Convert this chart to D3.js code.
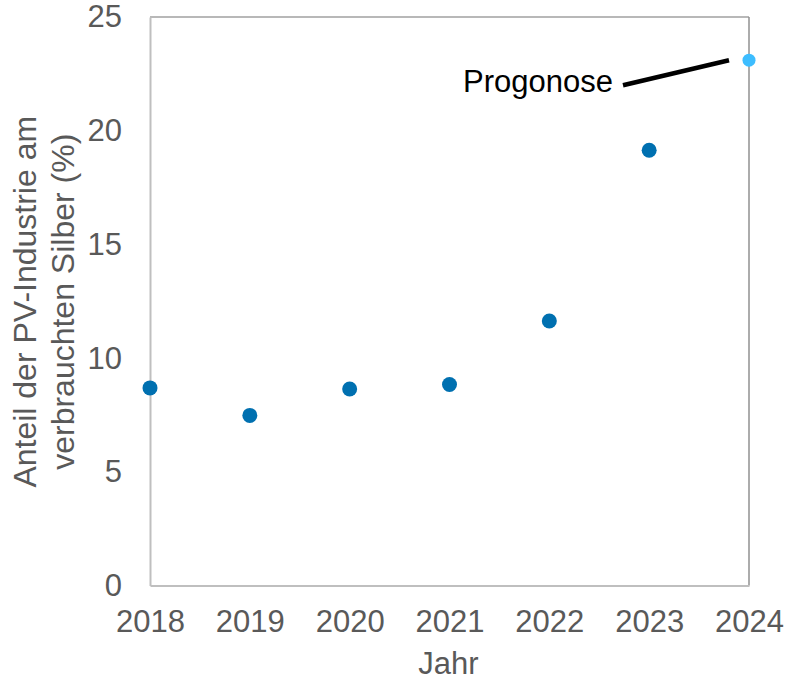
<!DOCTYPE html>
<html>
<head>
<meta charset="utf-8">
<script src="https://cdn.jsdelivr.net/npm/d3@7"></script>
<style>
  html, body { margin: 0; padding: 0; background: #fff; }
  svg { display: block; font-family: Arial, "Liberation Sans", sans-serif; }
</style>
</head>
<body>
<svg id="chart" width="789" height="681"></svg>
<script>
// Share of silver consumed by the PV industry, per year (2024 is a forecast)
const years = ["2018", "2019", "2020", "2021", "2022", "2023", "2024"];
const shares = [8.69, 7.48, 8.64, 8.84, 11.63, 19.14, 23.10];
const forecast = [false, false, false, false, false, false, true];
const yTicks = [0, 5, 10, 15, 20, 25];

const svg = d3.select("#chart");
const m = { left: 150, right: 749, top: 17, bottom: 585.5 };

const x = d3.scalePoint().domain(years).range([m.left, m.right]);
const y = d3.scaleLinear().domain([0, 25]).range([m.bottom, m.top]);

const tickColor = "#595959";

// plot frame: top and right edges
svg.append("line").attr("x1", m.left).attr("x2", m.right).attr("y1", m.top).attr("y2", m.top)
  .attr("stroke", "#a0a0a0").attr("stroke-width", 1.5);
svg.append("line").attr("x1", m.right).attr("x2", m.right).attr("y1", m.top).attr("y2", m.bottom)
  .attr("stroke", "#909090").attr("stroke-width", 1.5);

// y axis
const yAxis = svg.append("g").attr("transform", `translate(${m.left},0)`)
  .call(d3.axisLeft(y).tickValues(yTicks).tickSize(0).tickPadding(28));
yAxis.select(".domain").attr("stroke", "#bfbfbf").attr("stroke-width", 2);
yAxis.selectAll("text").attr("fill", tickColor).attr("font-size", 31)
  .attr("font-family", "Arial, 'Liberation Sans', sans-serif");

// x axis
const xAxis = svg.append("g").attr("transform", `translate(0,${m.bottom})`)
  .call(d3.axisBottom(x).tickSize(0).tickPadding(24));
xAxis.select(".domain").attr("stroke", "#bfbfbf").attr("stroke-width", 2);
xAxis.selectAll("text").attr("fill", tickColor).attr("font-size", 31)
  .attr("font-family", "Arial, 'Liberation Sans', sans-serif");

// axis titles
svg.append("text").attr("x", (m.left + m.right) / 2 - 1).attr("y", 674)
  .attr("text-anchor", "middle").attr("fill", tickColor).attr("font-size", 31)
  .text("Jahr");

const yTitle = svg.append("text")
  .attr("transform", `translate(0,${(m.top + m.bottom) / 2 + 0.5}) rotate(-90)`)
  .attr("text-anchor", "middle").attr("fill", tickColor).attr("font-size", 32);
yTitle.append("tspan").attr("x", 0).attr("y", 36).text("Anteil der PV-Industrie am");
yTitle.append("tspan").attr("x", 0).attr("y", 74).text("verbrauchten Silber (%)");

// data points
const pts = years.map((yr, i) => ({ yr, v: shares[i], f: forecast[i] }));
svg.append("g").selectAll("circle").data(pts).join("circle")
  .attr("cx", d => x(d.yr)).attr("cy", d => y(d.v))
  .attr("r", d => d.f ? 6.5 : 7.5)
  .attr("fill", d => d.f ? "#3dbdff" : "#0070b0");

// forecast annotation
const last = pts[pts.length - 1];
const px = x(last.yr), py = y(last.v);
svg.append("line")
  .attr("x1", px - 126).attr("y1", py + 25)
  .attr("x2", px - 20).attr("y2", py)
  .attr("stroke", "#000").attr("stroke-width", 4.5);
svg.append("text").attr("x", px - 136).attr("y", py + 32)
  .attr("text-anchor", "end").attr("fill", "#000").attr("font-size", 31)
  .text("Progonose");
</script>
</body>
</html>
